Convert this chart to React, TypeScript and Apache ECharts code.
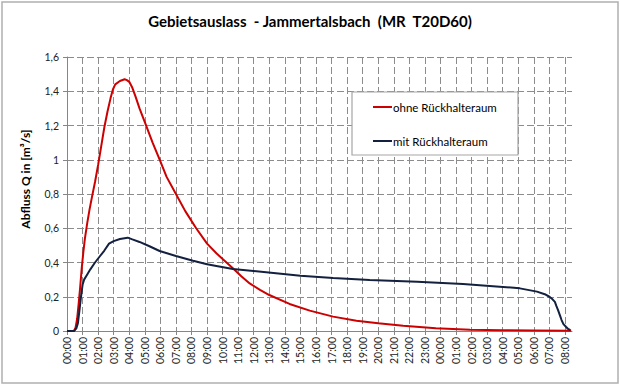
import React, { useEffect, useRef } from "react";
import * as echarts from "echarts";

const FONT = "Lato, 'Open Sans', sans-serif";

const chartTitle = "Gebietsauslass  - Jammertalsbach  (MR  T20D60)";
const yAxisTitle = "Abfluss Q in [m³/s]";
const seriesNames = ["ohne Rückhalteraum", "mit Rückhalteraum"];

const xTickLabels = [
  "00:00", "01:00", "02:00", "03:00", "04:00", "05:00", "06:00", "07:00", "08:00",
  "09:00", "10:00", "11:00", "12:00", "13:00", "14:00", "15:00", "16:00", "17:00",
  "18:00", "19:00", "20:00", "21:00", "22:00", "23:00", "00:00", "01:00", "02:00",
  "03:00", "04:00", "05:00", "06:00", "07:00", "08:00",
];
const yTickLabels = ["0", "0,2", "0,4", "0,6", "0,8", "1", "1,2", "1,4", "1,6"];

// time in hours since 00:00, discharge in m³/s
const ohneTime = [
  0, 0.45, 0.55, 0.65, 0.75, 0.85, 0.95, 1.05, 1.15, 1.3, 1.45, 1.6, 1.8, 2.0, 2.2,
  2.4, 2.6, 2.8, 2.95, 3.1, 3.4, 3.7, 3.85, 4.0, 4.2, 4.4, 4.66, 5.0, 5.5, 6.0, 6.4,
  7.0, 7.6, 8.3, 9.0, 9.6, 10.0, 10.66, 11.2, 11.74, 12.4, 13.0, 14.3, 15.6, 17.1,
  18.6, 20.0, 21.6, 23.7, 25.9, 28.0, 30.0, 32.4,
];
const ohneQ = [
  0, 0, 0.02, 0.07, 0.16, 0.26, 0.37, 0.46, 0.54, 0.63, 0.71, 0.78, 0.87, 0.97, 1.08,
  1.19, 1.28, 1.36, 1.41, 1.44, 1.46, 1.47, 1.465, 1.455, 1.42, 1.37, 1.3, 1.22, 1.1,
  0.99, 0.9, 0.8, 0.7, 0.6, 0.51, 0.454, 0.42, 0.366, 0.32, 0.278, 0.24, 0.21, 0.158,
  0.119, 0.084, 0.06, 0.045, 0.031, 0.016, 0.007, 0.004, 0.003, 0.002,
];

const mitTime = [
  0, 0.45, 0.6, 0.7, 0.8, 0.9, 1.0, 1.1, 1.3, 1.5, 1.8, 2.1, 2.4, 2.7, 3.0, 3.4, 3.9,
  4.2, 4.66, 5.3, 5.95, 7.0, 8.1, 9.0, 9.6, 10.66, 12.8, 15.0, 17.1, 19.45, 22.5,
  25.45, 27.8, 29.1, 30.2, 30.7, 31.0, 31.2, 31.35, 31.45, 31.56, 31.68, 31.78, 31.9,
  32.06, 32.2, 32.35,
];
const mitQ = [
  0, 0, 0.015, 0.045, 0.12, 0.2, 0.27, 0.3, 0.33, 0.36, 0.4, 0.435, 0.47, 0.51, 0.525,
  0.537, 0.545, 0.535, 0.52, 0.495, 0.467, 0.438, 0.41, 0.39, 0.38, 0.362, 0.343,
  0.323, 0.309, 0.298, 0.288, 0.274, 0.259, 0.249, 0.23, 0.215, 0.2, 0.185, 0.17,
  0.145, 0.12, 0.09, 0.064, 0.04, 0.025, 0.012, 0.005,
];

const zip = (xs: number[], ys: number[]) => xs.map((x, i) => [x, ys[i]]);

export default function App() {
  const ref = useRef<HTMLDivElement>(null);

  useEffect(() => {
    if (!ref.current) return;
    const chart = echarts.init(ref.current, undefined, { renderer: "svg" });
    const axisColor = "#868686";
    const gridStyle = { type: [7, 3] as any, color: "#8c8c8c", width: 1 };
    chart.setOption({
      animation: false,
      backgroundColor: "#ffffff",
      title: {
        text: chartTitle,
        left: "center",
        top: 8,
        textStyle: { fontFamily: FONT, fontSize: 15, fontWeight: "bold", color: "#000" },
      },
      grid: { left: 67, right: 48, top: 57, bottom: 55 },
      legend: {
        orient: "vertical",
        left: 373,
        top: 100,
        padding: 0,
        itemGap: 20,
        itemWidth: 19,
        itemHeight: 2,
        icon: "rect",
        z: 5,
        data: seriesNames,
        textStyle: { fontFamily: FONT, fontSize: 11.5, color: "#000", lineHeight: 14, padding: [0, 0, 0, -4] },
      },
      xAxis: {
        type: "value",
        min: 0,
        max: 32.45,
        interval: 1,
        axisLine: { lineStyle: { color: axisColor } },
        axisTick: { length: 4, lineStyle: { color: axisColor } },
        axisLabel: {
          rotate: 90,
          fontSize: 10.5,
          fontFamily: FONT,
          color: "#222",
          margin: 6,
          showMaxLabel: false,
          formatter: (v: number) => xTickLabels[Math.round(v)] ?? "",
        },
        splitLine: { show: true, showMinLine: false, showMaxLine: false, lineStyle: gridStyle },
      },
      yAxis: {
        type: "value",
        min: 0,
        max: 1.6,
        interval: 0.2,
        axisLine: { show: true, lineStyle: { color: axisColor } },
        axisTick: { show: true, length: 4, lineStyle: { color: axisColor } },
        axisLabel: {
          fontSize: 10.5,
          fontFamily: FONT,
          color: "#222",
          margin: 8,
          formatter: (v: number) => yTickLabels[Math.round(v / 0.2)] ?? "",
        },
        splitLine: { show: true, showMinLine: false, lineStyle: gridStyle },
      },
      series: [
        {
          name: seriesNames[0],
          type: "line",
          data: zip(ohneTime, ohneQ),
          showSymbol: false,
          symbol: "none",
          lineStyle: { color: "#cc0000", width: 2 },
          itemStyle: { color: "#cc0000" },
          z: 3,
        },
        {
          name: seriesNames[1],
          type: "line",
          data: zip(mitTime, mitQ),
          showSymbol: false,
          symbol: "none",
          lineStyle: { color: "#13203f", width: 2 },
          itemStyle: { color: "#13203f" },
          z: 3,
        },
      ],
      graphic: [
        {
          type: "rect",
          z: -10,
          silent: true,
          shape: { x: 2, y: 2, width: 616, height: 381 },
          style: { fill: "none", stroke: "#b0b0b0", lineWidth: 1.5 },
        },
        {
          type: "rect",
          z: 4,
          silent: true,
          shape: { x: 352, y: 92, width: 166, height: 63 },
          style: { fill: "#ffffff", stroke: "#a6a6a6", lineWidth: 1.2 },
        },
        {
          type: "text",
          x: 25,
          y: 179,
          rotation: Math.PI / 2,
          silent: true,
          style: {
            text: yAxisTitle,
            textAlign: "center",
            textVerticalAlign: "middle",
            font: `bold 12px ${FONT}`,
            fill: "#000",
          },
        },
      ],
    });
    return () => chart.dispose();
  }, []);

  return (
    <div
      ref={ref}
      style={{ position: "fixed", left: 0, top: 0, width: 620, height: 386 }}
    />
  );
}
